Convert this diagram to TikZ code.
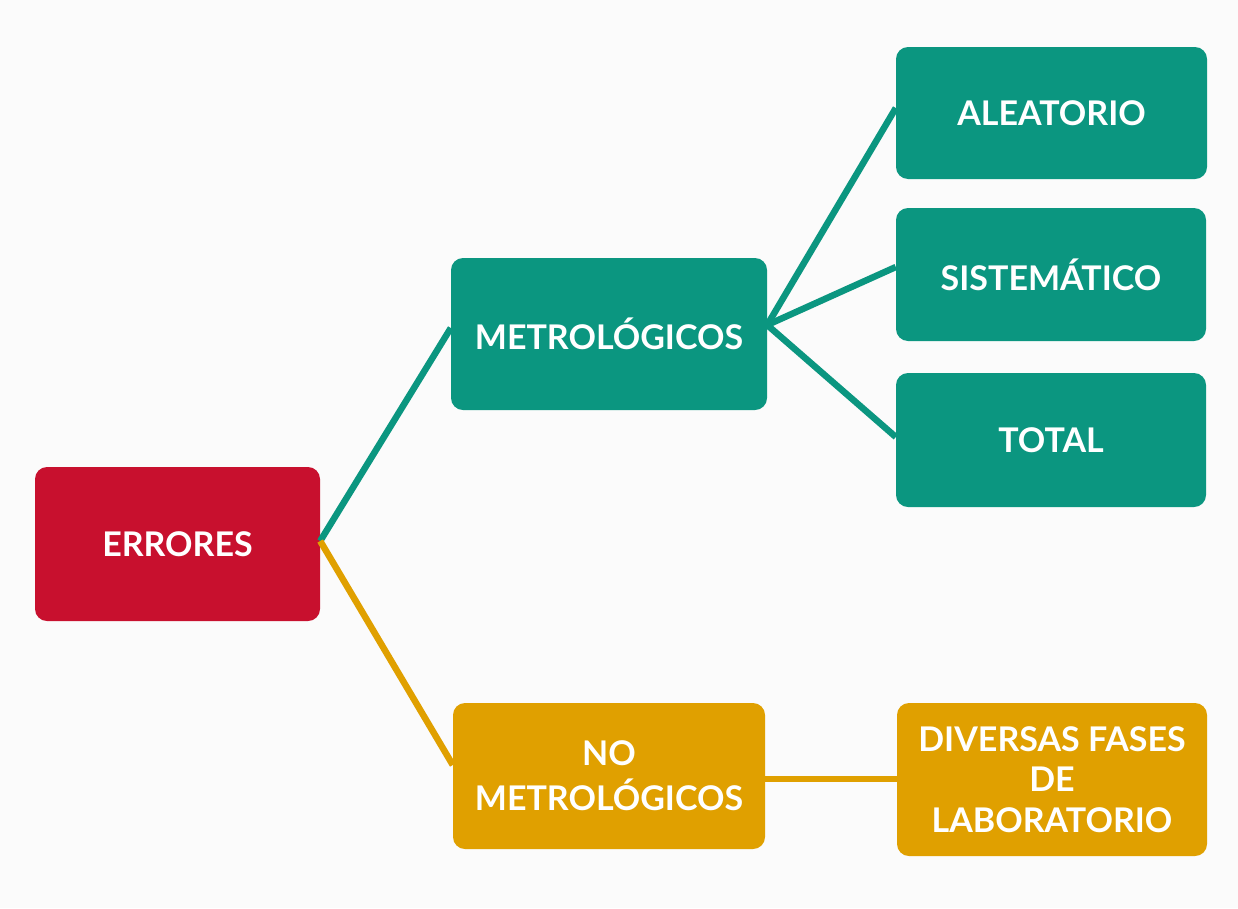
\documentclass[tikz,border=0pt]{standalone}
\usepackage{fontspec}
\setmainfont{Lato}
\definecolor{teal1}{HTML}{0B9680}
\definecolor{red1}{HTML}{C8102E}
\definecolor{gold1}{HTML}{E0A000}
\definecolor{bg}{HTML}{FBFBFB}
\tikzset{
  box/.style={rectangle, rounded corners=12pt, text=white, font=\bfseries\fontsize{34}{41}\selectfont, align=center, inner sep=0pt},
  tbox/.style={box, fill=teal1},
  rbox/.style={box, fill=red1},
  gbox/.style={box, fill=gold1},
  tline/.style={draw=teal1, line width=6.5pt},
  gline/.style={draw=gold1, line width=6.5pt}
}
\begin{document}
\begin{tikzpicture}[x=1pt,y=-1pt]
\fill[bg] (0,0) rectangle (1238,908);
\useasboundingbox (0,0) rectangle (1238,908);
\node[rbox, minimum width=285pt, minimum height=154pt] (err) at (177.5,544) {ERRORES};
\node[tbox, minimum width=316pt, minimum height=152pt] (met) at (609,334) {METROLÓGICOS};
\node[gbox, minimum width=312pt, minimum height=146pt, font=\bfseries\fontsize{34}{45}\selectfont] (nomet) at (609,776) {NO\\METROLÓGICOS};
\node[tbox, minimum width=311pt, minimum height=132pt] (ale) at (1051.5,113) {ALEATORIO};
\node[tbox, minimum width=310pt, minimum height=133pt] (sis) at (1051,274.5) {SISTEMÁTICO};
\node[tbox, minimum width=310pt, minimum height=134pt] (tot) at (1051,440) {TOTAL};
\node[gbox, minimum width=310pt, minimum height=153pt, font=\bfseries\fontsize{34}{40.5}\selectfont] (div) at (1052,779.5) {DIVERSAS FASES\\DE\\LABORATORIO};
\draw[tline] ([yshift=3pt]err.east) -- ([yshift=6pt]met.west);
\draw[gline] ([yshift=3pt]err.east) -- ([yshift=11pt]nomet.west);
\draw[tline] ([yshift=9pt]met.east) -- ([yshift=5pt]ale.west);
\draw[tline] ([yshift=9pt]met.east) -- ([yshift=7.5pt]sis.west);
\draw[tline] ([yshift=9pt]met.east) -- ([yshift=3pt]tot.west);
\draw[gline] ([yshift=-3pt]nomet.east) -- ([yshift=0.5pt]div.west);
\end{tikzpicture}
\end{document}
